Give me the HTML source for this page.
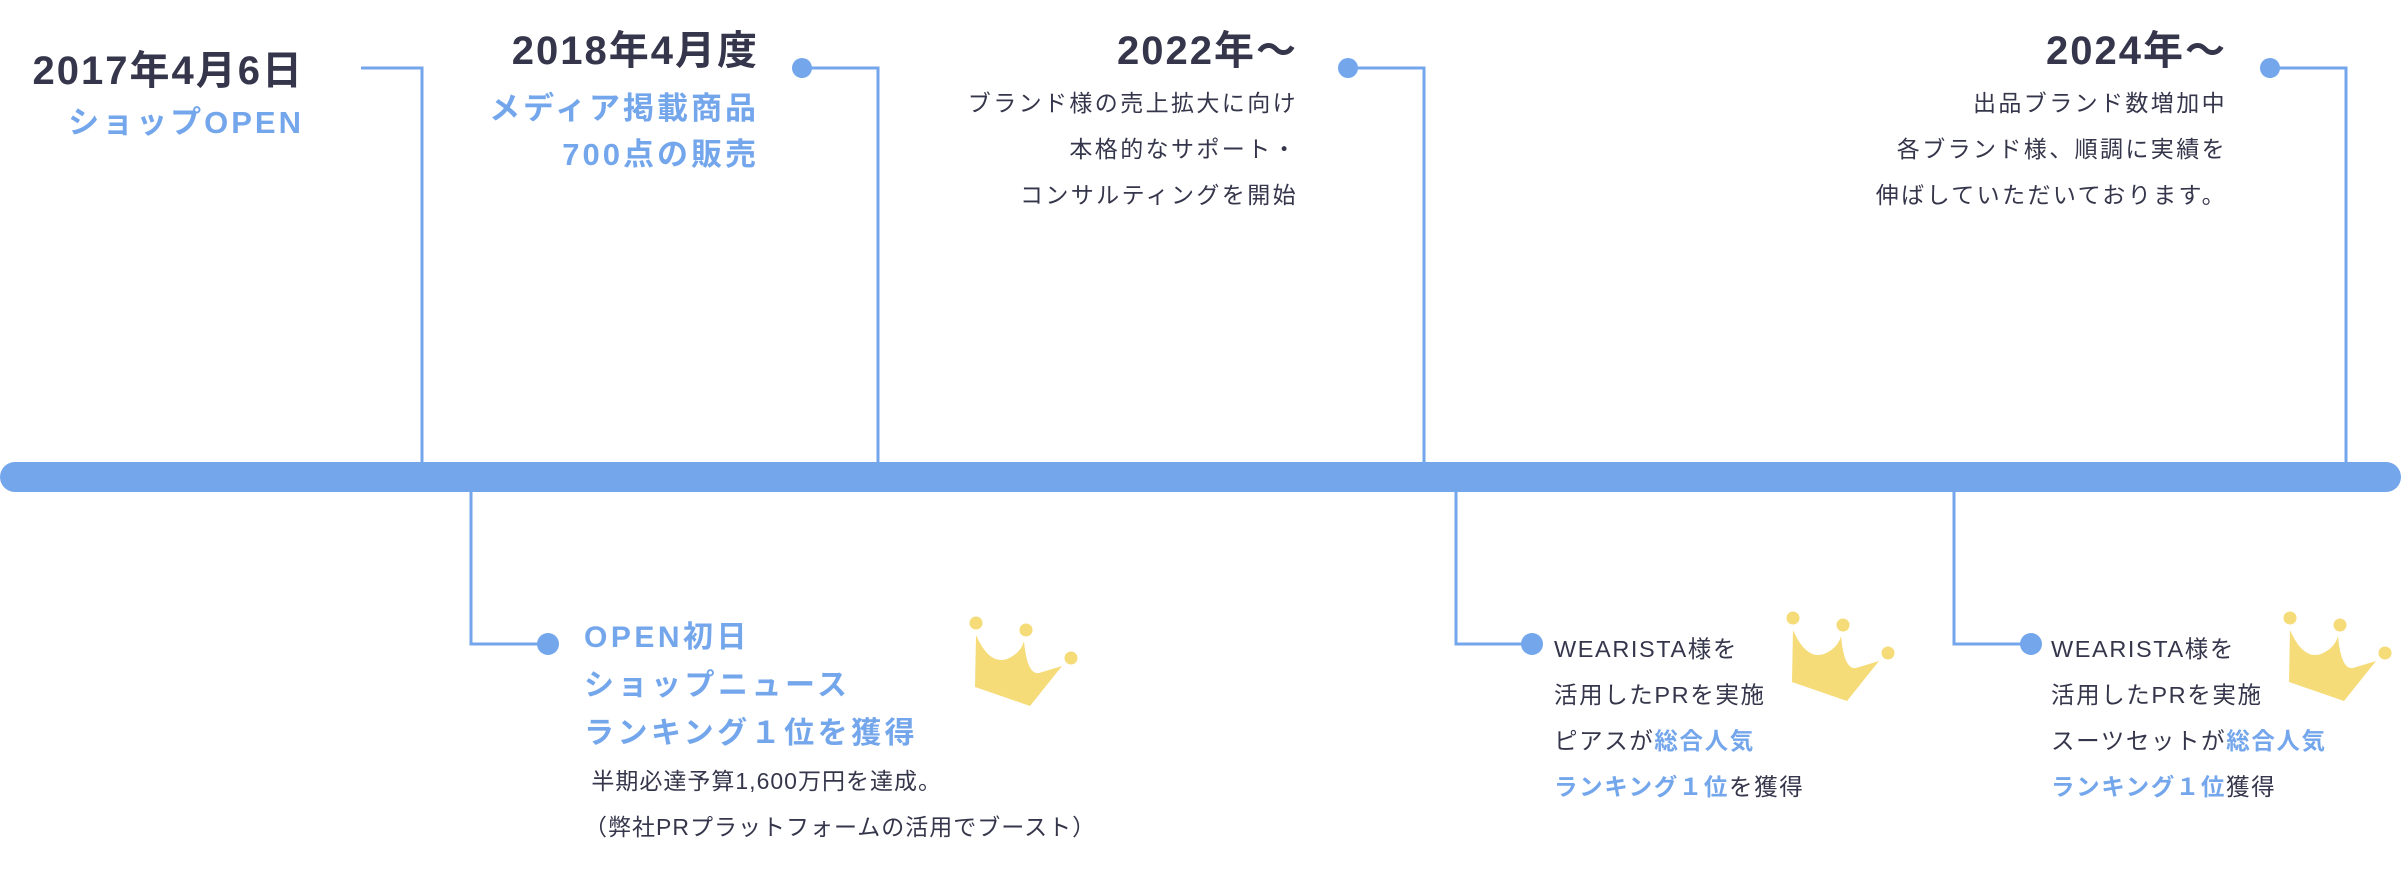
<!DOCTYPE html>
<html><head><meta charset="utf-8"><style>
html,body{margin:0;padding:0;background:#fff;}
body{width:2401px;height:887px;position:relative;overflow:hidden;font-family:"Liberation Sans","Noto Sans CJK JP",sans-serif;color:#35364b;}
.t{position:absolute;white-space:nowrap;}
.r{text-align:right;}
.h{font-weight:bold;font-size:40px;letter-spacing:2px;line-height:46px;color:#35364b;}
.bl{color:#74a6ec;font-weight:bold;}
.b{font-size:23px;letter-spacing:2.4px;line-height:46px;}
.sub{font-size:31px;letter-spacing:3px;line-height:46px;}
.sub2{font-size:30px;letter-spacing:3.5px;line-height:48px;}
.bb{font-size:23.5px;letter-spacing:1.6px;line-height:46px;}
</style></head><body>
<svg width="2401" height="887" style="position:absolute;left:0;top:0">
<defs>
<g id="crown" fill="#f5dc78">
<path d="M7,18 Q20,48 38,42 Q52,36 55,24 Q58,58 70,56 L93,49 L61,89 L6,70 Z"/>
<circle cx="7" cy="6" r="6.5"/><circle cx="57" cy="13" r="6.5"/><circle cx="102" cy="41" r="6.5"/>
</g>
</defs>
<rect x="0" y="462" width="2401" height="30" rx="15" fill="#74a6ec"/>
<g stroke="#74a6ec" stroke-width="3" fill="none">
<polyline points="361,68 422,68 422,463"/>
<polyline points="802,68 878,68 878,463"/>
<polyline points="1348,68 1424,68 1424,463"/>
<polyline points="2270,68 2346,68 2346,463"/>
<polyline points="471,491 471,644 548,644"/>
<polyline points="1456,491 1456,644 1532,644"/>
<polyline points="1954,491 1954,644 2031,644"/>
</g>
<g fill="#74a6ec">
<circle cx="802" cy="68" r="10"/><circle cx="1348" cy="68" r="10"/><circle cx="2270" cy="68" r="10"/>
<circle cx="548" cy="644" r="11"/><circle cx="1532" cy="644" r="11"/><circle cx="2031" cy="644" r="11"/>
</g>
<use href="#crown" x="969" y="617"/>
<use href="#crown" x="1786" y="612"/>
<use href="#crown" x="2283" y="612"/>
</svg>

<div class="t r" style="right:2097px;top:48px;"><div class="h">2017年4月6日</div><div class="bl sub" style="margin-top:6px">ショップOPEN</div></div>
<div class="t r" style="right:1642px;top:28px;"><div class="h">2018年4月度</div><div class="bl sub" style="margin-top:12px">メディア掲載商品<br>700点の販売</div></div>
<div class="t r" style="right:1103px;top:28px;"><div class="h">2022年〜</div><div class="b" style="margin-top:6px">ブランド様の売上拡大に向け<br>本格的なサポート・<br>コンサルティングを開始</div></div>
<div class="t r" style="right:174px;top:28px;"><div class="h">2024年〜</div><div class="b" style="margin-top:6px">出品ブランド数増加中<br>各ブランド様、順調に実績を<br>伸ばしていただいております。</div></div>

<div class="t" style="left:584px;top:614px;"><div class="bl sub2">OPEN初日<br>ショップニュース<br>ランキング１位を獲得</div>
<div class="b" style="font-size:23px;letter-spacing:1px;margin-top:0px">&nbsp;半期必達予算1,600万円を達成。<br>（弊社PRプラットフォームの活用でブースト）</div></div>

<div class="t bb" style="left:1554px;top:626px;">WEARISTA様を<br>活用したPRを実施<br>ピアスが<span class="bl">総合人気</span><br><span class="bl">ランキング１位</span>を獲得</div>
<div class="t bb" style="left:2051px;top:626px;">WEARISTA様を<br>活用したPRを実施<br>スーツセットが<span class="bl">総合人気</span><br><span class="bl">ランキング１位</span>獲得</div>
</body></html>
